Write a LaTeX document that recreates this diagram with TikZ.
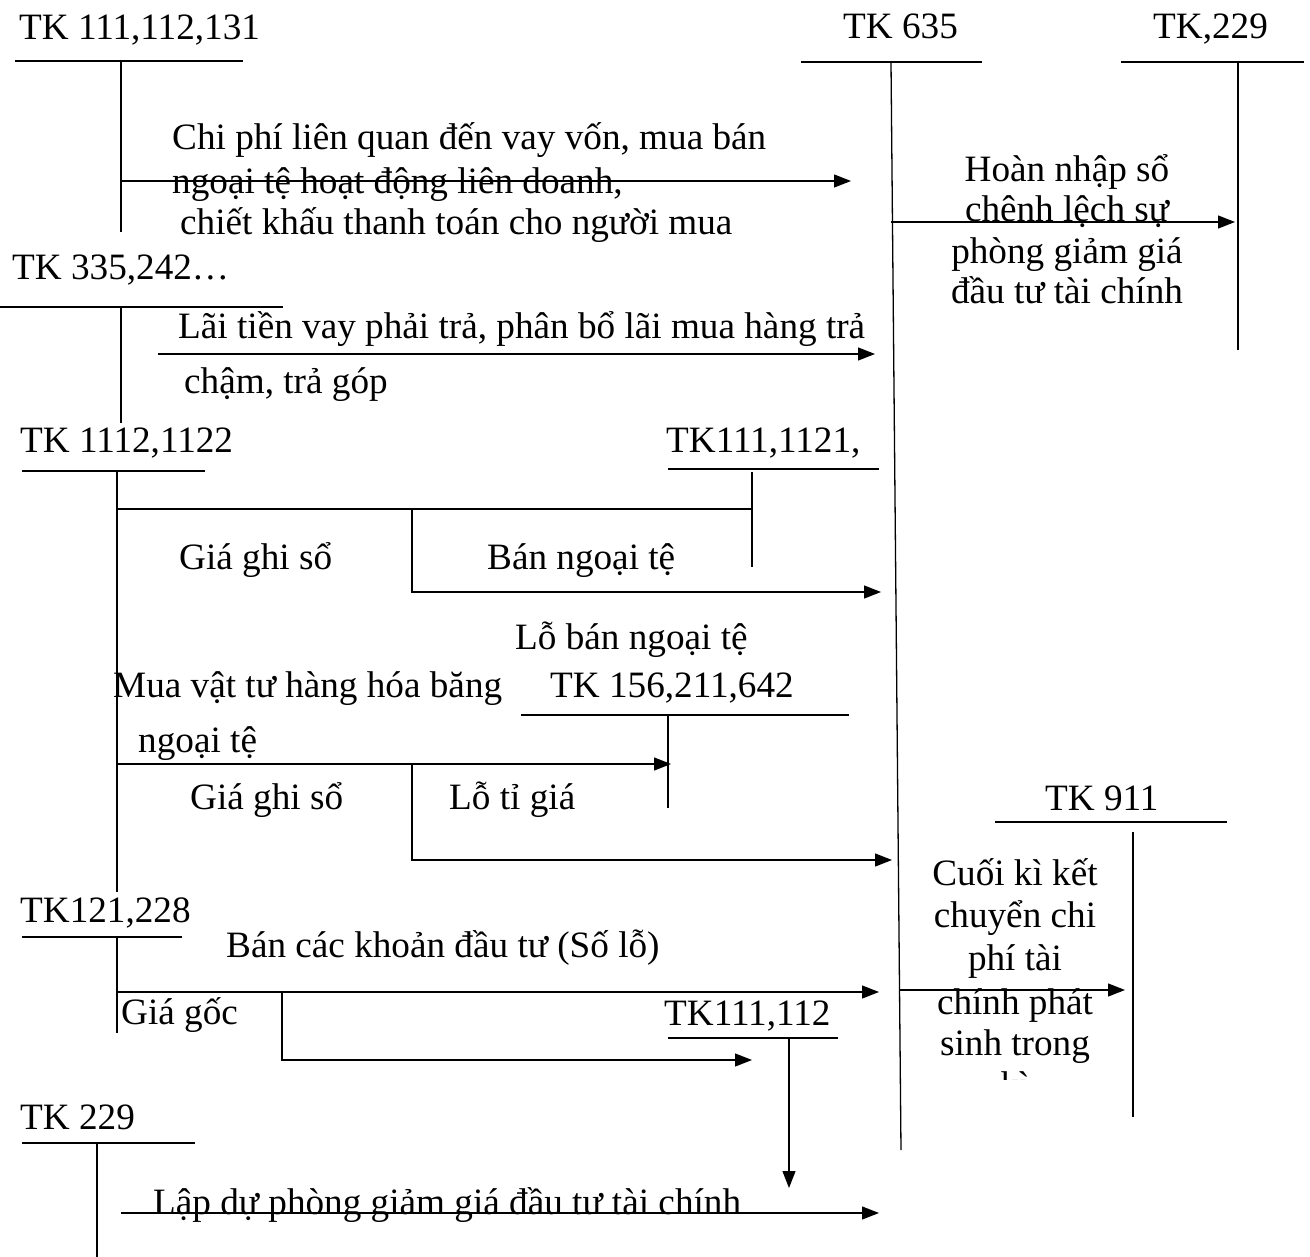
\documentclass[tikz,border=0pt]{standalone}
\usepackage{fontspec}
\setmainfont{Liberation Serif}
\usetikzlibrary{arrows.meta}
\begin{document}
\begin{tikzpicture}[x=1pt,y=-1pt,
  lbl/.style={anchor=base west,inner sep=0pt,yshift=-2pt,font=\fontsize{37.2}{44}\selectfont},
  clbl/.style={anchor=base,inner sep=0pt,yshift=-2pt,font=\fontsize{37.2}{44}\selectfont},
  acct/.style={line width=1.6pt},
  ln/.style={line width=1.3pt},
  arr/.style={line width=1.3pt,-{Triangle[length=17pt,width=13pt]}}]
\fill[white] (0,0) rectangle (1310,1257);
\useasboundingbox (0,0) rectangle (1310,1257);

% ---- account titles ----
\node[lbl] (tA) at (19,38) {TK 111,112,131};
\node[lbl] (tB) at (843,37) {TK 635};
\node[lbl] (tC) at (1153,37) {TK,229};
\node[lbl] (tD) at (12,278) {TK 335,242…};
\node[lbl] (tE) at (20,450) {TK 1112,1122};
\node[lbl] (tF) at (666,450) {TK111,1121,};
\node[lbl] (tG) at (550,695) {TK 156,211,642};
\node[lbl] (tH) at (1045,808) {TK 911};
\node[lbl] (tI) at (20,920) {TK121,228};
\node[lbl] (tJ) at (664,1023) {TK111,112};
\node[lbl] (tK) at (20,1127) {TK 229};

% ---- labels ----
\node[lbl] (la1) at (172,148) {Chi phí liên quan đến vay vốn, mua bán};
\node[lbl] (la2) at (172,192) {ngoại tệ hoạt động liên doanh,};
\node[lbl] (la3) at (180,233) {chiết khấu thanh toán cho người mua};
\node[clbl] (h1) at (1067,180) {Hoàn nhập sổ};
\node[clbl] (h2) at (1067,220) {chênh lệch sự};
\node[clbl] (h3) at (1067,262) {phòng giảm giá};
\node[clbl] (h4) at (1067,302) {đầu tư tài chính};
\node[lbl] (lb1) at (178,337) {Lãi tiền vay phải trả, phân bổ lãi mua hàng trả};
\node[lbl] (lb2) at (184,392) {chậm, trả góp};
\node[lbl] (g1) at (179,567) {Giá ghi sổ};
\node[lbl] (bn) at (487,567) {Bán ngoại tệ};
\node[lbl] (lbn) at (515,647) {Lỗ bán ngoại tệ};
\node[lbl] (m1) at (113,695) {Mua vật tư hàng hóa băng};
\node[lbl] (m2) at (138,750) {ngoại tệ};
\node[lbl] (g2) at (190,807) {Giá ghi sổ};
\node[lbl] (ltg) at (449,807) {Lỗ tỉ giá};
\node[clbl] (c1) at (1015,883) {Cuối kì kết};
\node[clbl] (c2) at (1015,925) {chuyển chi};
\node[clbl] (c3) at (1015,968) {phí tài};
\node[clbl] (c4) at (1015,1012) {chính phát};
\node[clbl] (c5) at (1015,1053) {sinh trong};
\begin{scope}
  \clip (900,1060) rectangle (1130,1079);
  \node[clbl] (c6) at (1015,1095) {kì};
\end{scope}
\node[lbl] (bck) at (226,955) {Bán các khoản đầu tư (Số lỗ)};
\node[lbl] (gg) at (121,1022) {Giá gốc};
\node[lbl] (lp) at (153,1212) {Lập dự phòng giảm giá đầu tư tài chính};

% ---- T-account bars ----
\draw[acct] (15,61) -- (243,61);
\draw[acct] (801,62) -- (982,62);
\draw[acct] (1121,62) -- (1304,62);
\draw[acct] (0,307) -- (283,307);
\draw[acct] (22,471) -- (205,471);
\draw[acct] (668,469) -- (879,469);
\draw[acct] (521,715) -- (849,715);
\draw[acct] (995,822) -- (1227,822);
\draw[acct] (22,937) -- (182,937);
\draw[acct] (668,1038) -- (838,1038);
\draw[acct] (22,1143) -- (195,1143);

% ---- T-account stems ----
\coordinate (vA1) at (121,61);   \coordinate (vA2) at (121,232);
\coordinate (vB1) at (891,62);   \coordinate (vB2) at (901,1150);
\coordinate (vC1) at (1238,62);  \coordinate (vC2) at (1238,350);
\coordinate (vD1) at (121,307);  \coordinate (vD2) at (121,423);
\coordinate (vE1) at (117,471);  \coordinate (vE2) at (117,892);
\coordinate (vF1) at (752,472);  \coordinate (vF2) at (752,567);
\coordinate (vG1) at (668,715);  \coordinate (vG2) at (668,808);
\coordinate (vH1) at (1133,832); \coordinate (vH2) at (1133,1117);
\coordinate (vI1) at (117,937);  \coordinate (vI2) at (117,1033);
\coordinate (vK1) at (97,1143);  \coordinate (vK2) at (97,1257);
\draw[ln] (vA1) -- (vA2);
\draw[ln] (vB1) -- (vB2);
\draw[ln] (vC1) -- (vC2);
\draw[ln] (vD1) -- (vD2);
\draw[ln] (vE1) -- (vE2);
\draw[ln] (vF1) -- (vF2);
\draw[ln] (vG1) -- (vG2);
\draw[ln] (vH1) -- (vH2);
\draw[ln] (vI1) -- (vI2);
\draw[ln] (vK1) -- (vK2);

% ---- flows ----
\draw[arr] (121,181) -- (851,181);
\draw[arr] (158,354) -- (875,354);
\draw[arr] (891,222) -- (1235,222);
\draw[ln] (117,509) -- (752,509);
\draw[arr] (412,509) -- (412,592) -- (881,592);
\draw[arr] (117,764) -- (671,764);
\draw[arr] (412,764) -- (412,860) -- (892,860);
\draw[arr] (117,992) -- (879,992);
\draw[arr] (282,992) -- (282,1060) -- (752,1060);
\draw[arr] (789,1038) -- (789,1188);
\draw[arr] (900,990) -- (1125,990);
\draw[arr] (121,1213) -- (879,1213);
\end{tikzpicture}
\end{document}
